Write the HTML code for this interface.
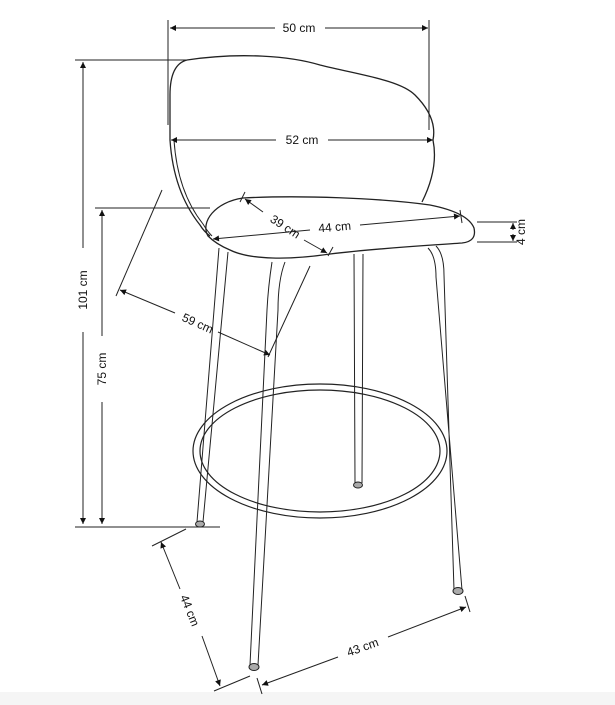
<!DOCTYPE html>
<html><head><style>
html,body{margin:0;padding:0;background:#fff;}
svg{display:block;}
text{font-family:"Liberation Sans",sans-serif;font-size:12px;fill:#111;}
</style></head><body>
<svg width="615" height="705" viewBox="0 0 615 705" xmlns="http://www.w3.org/2000/svg">
<defs>
<marker id="a" viewBox="0 0 10 10" refX="10" refY="5" markerWidth="8" markerHeight="6" orient="auto-start-reverse" markerUnits="userSpaceOnUse"><path d="M0,0L10,5L0,10z" fill="#111"/></marker>
</defs>
<rect x="0" y="692" width="615" height="13" fill="#f5f5f5"/>
<g stroke="#222" stroke-width="1" fill="none">
<line x1="168" y1="20" x2="168" y2="125"/>
<line x1="429" y1="20" x2="429" y2="130"/>
<line x1="170" y1="28" x2="275" y2="28" marker-start="url(#a)"/>
<line x1="325" y1="28" x2="428" y2="28" marker-end="url(#a)"/>
<path d="M187,60 C240,52 290,56 320,65 C360,75 400,80 415,95 C430,110 436,125 433,140 C437,160 433,180 422,202" stroke-width="1.3"/>
<path d="M187,60 C175,63 170,75 170,95 L170,140 C172,170 180,200 200,225 C203,230 206,233 210,236" stroke-width="1.3"/>
<path d="M174,140 C176,170 184,200 203,224 C206,229 208,232 212,236"/>
<line x1="171" y1="140" x2="276" y2="140" marker-start="url(#a)"/>
<line x1="328" y1="140" x2="433" y2="140" marker-end="url(#a)"/>
<line x1="75" y1="60" x2="188" y2="60"/>
<line x1="83" y1="62" x2="83" y2="248" marker-start="url(#a)"/>
<line x1="83" y1="332" x2="83" y2="524" marker-end="url(#a)"/>
<line x1="95" y1="208" x2="210" y2="208"/>
<line x1="102" y1="210" x2="102" y2="336" marker-start="url(#a)"/>
<line x1="102" y1="402" x2="102" y2="524" marker-end="url(#a)"/>
<line x1="75" y1="527" x2="220" y2="527"/>
<path d="M208,236 C200,222 215,202 243,198 C300,195 380,198 430,205 C455,210 470,218 474,228 C476,237 472,242 462,243 C420,246 380,248 330,254 C290,260 250,260 230,250 C218,245 212,240 208,236 Z" stroke-width="1.3"/>
<line x1="477" y1="222" x2="517" y2="222"/>
<line x1="477" y1="242" x2="517" y2="242"/>
<line x1="513" y1="230" x2="513" y2="223" marker-end="url(#a)"/>
<line x1="513" y1="234" x2="513" y2="241" marker-end="url(#a)"/>
<line x1="213" y1="239" x2="310" y2="230" marker-start="url(#a)"/>
<line x1="360" y1="225" x2="460" y2="216" marker-end="url(#a)"/>
<line x1="245" y1="192" x2="240" y2="202"/>
<line x1="460" y1="210" x2="462" y2="223"/>
<line x1="245" y1="199" x2="263" y2="212" marker-start="url(#a)"/>
<line x1="304" y1="240" x2="327" y2="253" marker-end="url(#a)"/>
<line x1="333" y1="247" x2="328" y2="256"/>
<line x1="162" y1="190" x2="116" y2="296"/>
<line x1="310" y1="266" x2="268" y2="357"/>
<line x1="120" y1="290" x2="175" y2="313" marker-start="url(#a)"/>
<line x1="218" y1="332" x2="270" y2="355" marker-end="url(#a)"/>
<path d="M219,248 L197,522 M228,252 L203,522"/>
<path d="M272,262 C270,275 268,290 267,310 L250,665 M285,262 C280,275 278,290 278,310 L258,665"/>
<path d="M436,246 C442,252 444,262 444,275 L454,590 M428,248 C434,254 436,264 436,277 L462,590"/>
<path d="M354,254 L355,483 M363,254 L362,483"/>
<ellipse cx="320" cy="451" rx="127" ry="67" stroke-width="1.2"/>
<ellipse cx="320" cy="451" rx="120" ry="61" stroke-width="1.2"/>
<ellipse cx="200" cy="524" rx="4.5" ry="3" fill="#aaa"/>
<ellipse cx="358" cy="485" rx="4.5" ry="3" fill="#aaa"/>
<ellipse cx="254" cy="667" rx="5" ry="3.5" fill="#aaa"/>
<ellipse cx="458" cy="591" rx="5" ry="3.5" fill="#aaa"/>
<line x1="152" y1="546" x2="186" y2="529"/>
<line x1="214" y1="691" x2="250" y2="676"/>
<line x1="161" y1="542" x2="180" y2="589" marker-start="url(#a)"/>
<line x1="202" y1="636" x2="220" y2="686" marker-end="url(#a)"/>
<line x1="257" y1="678" x2="262" y2="694"/>
<line x1="465" y1="596" x2="470" y2="612"/>
<line x1="262" y1="685" x2="338" y2="657" marker-start="url(#a)"/>
<line x1="388" y1="637" x2="466" y2="607" marker-end="url(#a)"/>
</g>
<text x="299" y="32" text-anchor="middle">50 cm</text>
<text x="302" y="144" text-anchor="middle">52 cm</text>
<text transform="translate(87,290) rotate(-90)" text-anchor="middle">101 cm</text>
<text transform="translate(106,369) rotate(-90)" text-anchor="middle">75 cm</text>
<text transform="translate(521,232) rotate(-90)" text-anchor="middle" dy="4">4 cm</text>
<text transform="translate(335,231) rotate(-5)" text-anchor="middle">44 cm</text>
<text transform="translate(283,230) rotate(33)" text-anchor="middle">39 cm</text>
<text transform="translate(196,327) rotate(24)" text-anchor="middle">59 cm</text>
<text transform="translate(186,612) rotate(68)" text-anchor="middle">44 cm</text>
<text transform="translate(364,651) rotate(-20)" text-anchor="middle">43 cm</text>
</svg>
</body></html>
